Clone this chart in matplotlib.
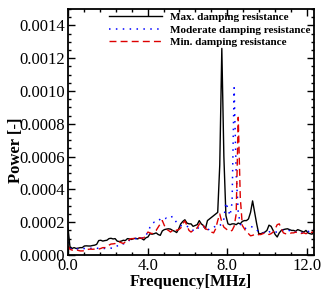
import numpy as np
import matplotlib
matplotlib.use("Agg")
import matplotlib.pyplot as plt
from matplotlib.ticker import MultipleLocator, FormatStrFormatter

# Frequency grid [MHz], spectral resolution ~0.103 MHz
freq = np.arange(0, 121) * 0.103

# Power values (units of 1e-4)
max_damp = [1.7, 0.5, 0.4, 0.45, 0.4, 0.42, 0.45, 0.45, 0.55, 0.56,
            0.55, 0.55, 0.58, 0.6, 0.65, 0.88, 0.9, 0.85, 0.88, 0.9,
            1.0, 1.02, 0.98, 1.0, 0.85, 0.82, 0.85, 0.9, 0.88, 1.0,
            0.98, 0.95, 1.0, 1.02, 0.98, 1.05, 1.0, 0.92, 1.05, 1.1,
            1.3, 1.27, 1.3, 1.35, 1.25, 1.2, 1.47, 1.55, 1.58, 1.6,
            1.58, 1.5, 1.45, 1.37, 1.6, 1.9, 2.05, 2.15, 1.95, 1.9,
            1.9, 1.75, 1.8, 1.85, 2.1, 1.9, 1.8, 1.6, 2.1, 2.2,
            2.3, 2.4, 2.5, 2.6, 5.5, 12.6, 6.0, 2.4, 1.9, 1.85,
            1.9, 1.9, 1.85, 1.95, 1.9, 2.05, 2.1, 2.1, 2.2, 2.6,
            3.3, 2.6, 1.9, 1.3, 1.3, 1.35, 1.4, 1.5, 1.82, 1.75,
            1.5, 1.25, 1.1, 1.35, 1.5, 1.55, 1.58, 1.6, 1.55, 1.5,
            1.5, 1.45, 1.55, 1.5, 1.45, 1.4, 1.5, 1.35, 1.3, 1.27,
            1.5]

moderate_damp = [0.8, 0.4, 0.35, 0.35, 0.35, 0.38, 0.35, 0.36, 0.4, 0.38,
                 0.38, 0.4, 0.45, 0.45, 0.42, 0.4, 0.42, 0.4, 0.4, 0.38,
                 0.4, 0.42, 0.4, 0.45, 0.55, 0.65, 0.7, 0.68, 0.72, 0.8,
                 0.9, 0.95, 0.98, 1.0, 0.95, 1.0, 1.05, 1.02, 1.2, 1.4,
                 1.7, 1.9, 2.0, 2.0, 2.05, 2.2, 2.15, 2.2, 2.25, 2.2,
                 2.3, 2.35, 2.2, 1.95, 1.85, 1.8, 1.75, 1.8, 1.75, 1.7,
                 1.65, 1.5, 1.6, 1.55, 1.75, 1.8, 1.75, 1.6, 1.5, 1.6,
                 1.7, 1.7, 1.75, 1.7, 1.8, 1.9, 2.2, 3.2, 2.8, 2.4,
                 3.2, 10.2, 5.0, 2.6, 1.9, 1.7, 1.6, 1.65, 1.7, 1.75,
                 1.7, 1.6, 1.55, 1.4, 1.35, 1.35, 1.35, 1.3, 1.4, 1.45,
                 1.45, 1.4, 1.4, 1.45, 1.5, 1.5, 1.45, 1.45, 1.5, 1.4,
                 1.4, 1.4, 1.45, 1.4, 1.35, 1.4, 1.45, 1.45, 1.4, 1.45,
                 1.6]

min_damp = [0.55, 0.35, 0.3, 0.3, 0.32, 0.28, 0.25, 0.25, 0.26, 0.3,
            0.35, 0.36, 0.35, 0.36, 0.38, 0.36, 0.4, 0.45, 0.45, 0.5,
            0.6, 0.67, 0.68, 0.7, 0.8, 0.8, 0.75, 0.7, 0.8, 0.78,
            0.95, 1.0, 1.0, 1.05, 1.0, 1.05, 1.02, 1.05, 1.2, 1.4,
            1.35, 1.3, 1.45, 1.5, 1.7, 1.9, 2.1, 1.8, 1.57, 1.5,
            1.4, 1.5, 1.6, 1.5, 1.55, 1.65, 1.9, 2.08, 1.8, 1.5,
            1.4, 1.5, 1.6, 1.65, 1.88, 1.97, 1.8, 1.6, 1.55, 1.5,
            1.4, 1.35, 1.6, 2.1, 2.5, 2.0, 1.7, 1.6, 1.5, 1.45,
            1.5, 1.75, 2.5, 8.4, 3.5, 1.8, 1.6, 1.4, 1.3, 1.17,
            1.2, 1.25, 1.2, 1.25, 1.25, 1.3, 1.35, 1.3, 1.25, 1.3,
            1.4, 1.6, 1.85, 1.9, 1.6, 1.35, 1.3, 1.28, 1.3, 1.35,
            1.35, 1.4, 1.35, 1.3, 1.32, 1.35, 1.3, 1.35, 1.3, 1.4,
            1.4]

labels = ["Max. damping resistance", "Moderate damping resistance",
          "Min. damping resistance"]
x_ticks = [0.0, 4.0, 8.0, 12.0]

plt.rcParams['font.family'] = ['Liberation Serif', 'DejaVu Serif']

fig = plt.figure(figsize=(3.25, 2.89), dpi=100)
ax = fig.add_axes([0.209, 0.1176, 0.757, 0.851])

scale = 1e-4
ax.plot(freq, np.array(max_damp) * scale, color='black', lw=1.0,
        linestyle='-', label=labels[0])
ax.plot(freq, np.array(moderate_damp) * scale, color='#0000ff', lw=1.1,
        linestyle=(0, (1, 3.5)), label=labels[1])
ax.plot(freq, np.array(min_damp) * scale, color='#dd0000', lw=1.0,
        linestyle=(0, (5, 3)), label=labels[2])

ax.set_xlim(0, 12.35)
ax.set_ylim(0, 0.0015)
ax.set_xticks(x_ticks)
ax.xaxis.set_minor_locator(MultipleLocator(0.8))
ax.yaxis.set_major_locator(MultipleLocator(0.0002))
ax.yaxis.set_minor_locator(MultipleLocator(0.00005))
ax.xaxis.set_major_formatter(FormatStrFormatter('%.1f'))
ax.yaxis.set_major_formatter(FormatStrFormatter('%.4f'))

ax.tick_params(which='both', direction='in', top=True, right=True,
               labelsize=12, width=1.0)
ax.tick_params(which='major', length=5)
ax.tick_params(axis='y', which='major', pad=2)
ax.tick_params(axis='x', which='major', pad=2.5)
ax.tick_params(which='minor', length=2.5)
for s in ax.spines.values():
    s.set_linewidth(1.3)

ax.set_xlabel('Frequency[MHz]', fontsize=12, fontweight='bold')
ax.xaxis.set_label_coords(0.5, -0.077)
ax.set_ylabel('Power [-]', fontsize=12, fontweight='bold', va='center')
ax.yaxis.set_label_coords(-0.211, 0.427)

leg = ax.legend(loc='upper right', frameon=False, prop={'size': 8, 'weight': 'bold'},
                handlelength=4.8, handletextpad=0.7, labelspacing=0.25,
                borderaxespad=0.1, borderpad=0.2)

fig.savefig('out.png', dpi=100)
